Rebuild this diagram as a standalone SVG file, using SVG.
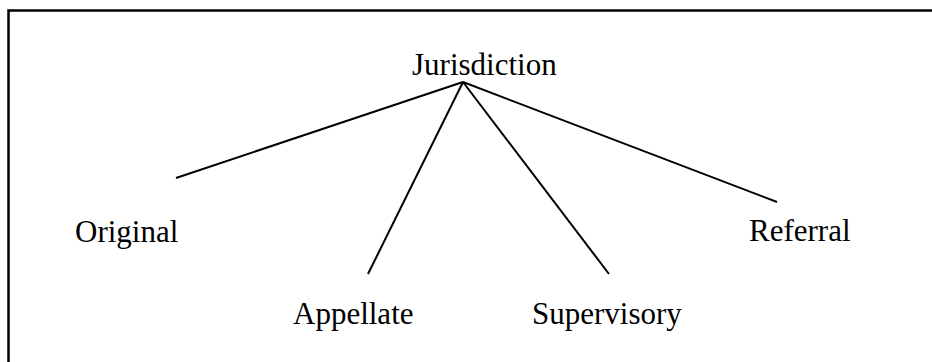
<svg xmlns="http://www.w3.org/2000/svg" width="932" height="362" viewBox="0 0 932 362">
<style>
.t{font-family:"Liberation Serif","Times New Roman",serif;font-size:31px;fill:#000}
.c line{stroke:#000;stroke-width:2}
</style>
<rect x="0" y="0" width="932" height="362" fill="#fff"/>
<rect x="8.5" y="10.5" width="940" height="370" fill="none" stroke="#000" stroke-width="2.5"/>
<g class="c" id="connectors">
<line x1="463" y1="82" x2="176" y2="178"/>
<line x1="463" y1="82" x2="368" y2="274"/>
<line x1="463" y1="82" x2="609" y2="274"/>
<line x1="463" y1="82" x2="777" y2="202"/>
</g>
<g id="jurisdiction"><text class="t" x="412" y="75">Jurisdiction</text></g>
<g id="original"><text class="t" x="75" y="242">Original</text></g>
<g id="appellate"><text class="t" x="293" y="324">Appellate</text></g>
<g id="supervisory"><text class="t" x="532" y="324">Supervisory</text></g>
<g id="referral"><text class="t" x="749" y="241">Referral</text></g>
</svg>
